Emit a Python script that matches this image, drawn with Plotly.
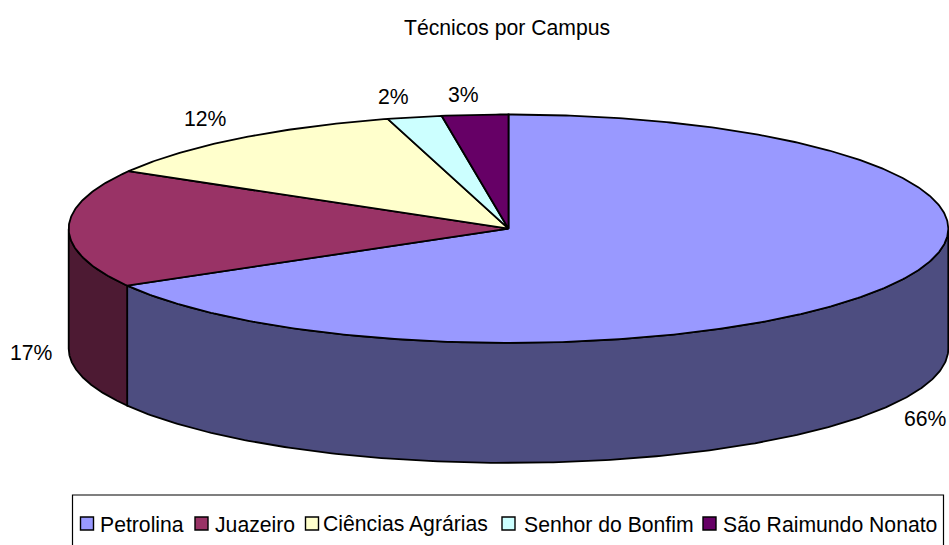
import numpy as np
import plotly.graph_objects as go

# Data
categories = ["Petrolina", "Juazeiro", "Ciências Agrárias", "Senhor do Bonfim", "São Raimundo Nonato"]
values = [66.7, 16.7, 12.17, 2.0, 2.43]
percent_labels = ["66%", "17%", "12%", "2%", "3%"]
top_colors = ["#9999FF", "#993366", "#FFFFCC", "#CCFFFF", "#660066"]
side_colors = ["#4D4D80", "#4D1A33", "#808066", "#668080", "#330033"]
title_text = "Técnicos por Campus"

W, H = 949, 545
CX, CY, RX, RY, DEPTH = 508.5, 228.7, 439.8, 114.2, 120
FONT = "Liberation Sans, Arial, sans-serif"
FS = 21.2
LW = 1.8
label_pos = [(925, 418), (31, 352), (205, 118), (393, 96), (463, 94)]
swatch_x = [80.5, 195, 305.5, 502, 703]
legend_text_x = [100, 215, 323, 524, 723]


def ell(deg, dy=0.0):
    r = np.radians(deg)
    return CX + RX * np.sin(r), CY - RY * np.cos(r) + dy


total = sum(values)
edges = np.concatenate([[0], np.cumsum(values) / total * 360])

fig = go.Figure()

# Side walls (front half of the ellipse only)
for i in range(len(values)):
    a, b = max(edges[i], 90), min(edges[i + 1], 270)
    if a >= b:
        continue
    t = np.linspace(a, b, 240)
    xt, yt = ell(t)
    xb, yb = ell(t[::-1], DEPTH)
    fig.add_trace(go.Scatter(
        x=np.r_[xt, xb, xt[0]], y=np.r_[yt, yb, yt[0]],
        mode="lines", fill="toself", fillcolor=side_colors[i],
        line=dict(color="#000000", width=LW), hoverinfo="skip", showlegend=False))

# Top faces
for i in range(len(values)):
    t = np.linspace(edges[i], edges[i + 1], max(8, int((edges[i + 1] - edges[i]) * 2)))
    xt, yt = ell(t)
    fig.add_trace(go.Scatter(
        x=np.r_[CX, xt, CX], y=np.r_[CY, yt, CY],
        mode="lines", fill="toself", fillcolor=top_colors[i],
        line=dict(color="#000000", width=LW), hoverinfo="skip", showlegend=False,
        name=categories[i]))

shapes = [dict(type="rect", xref="x", yref="y", x0=72.5, x1=943.5, y0=495, y1=560,
               line=dict(color="#000000", width=1.2), fillcolor="rgba(0,0,0,0)", layer="below")]
annotations = [dict(x=507, y=28, xref="x", yref="y", text=title_text, showarrow=False,
                    font=dict(family=FONT, size=FS, color="#000000"))]
for lab, (x, y) in zip(percent_labels, label_pos):
    annotations.append(dict(x=x, y=y, xref="x", yref="y", text=lab, showarrow=False,
                            font=dict(family=FONT, size=FS, color="#000000")))
for cat, col, sx, tx in zip(categories, top_colors, swatch_x, legend_text_x):
    shapes.append(dict(type="rect", xref="x", yref="y", x0=sx, x1=sx + 13, y0=517, y1=530,
                       fillcolor=col, line=dict(color="#000000", width=1.4)))
    annotations.append(dict(x=tx, y=524, xref="x", yref="y", xanchor="left", text=cat, showarrow=False,
                            xshift=-2, font=dict(family=FONT, size=FS, color="#000000")))

fig.update_layout(
    width=W, height=H, margin=dict(l=0, r=0, t=0, b=0, pad=0),
    paper_bgcolor="#FFFFFF", plot_bgcolor="#FFFFFF", showlegend=False,
    shapes=shapes, annotations=annotations,
    xaxis=dict(range=[0, W], visible=False, fixedrange=True),
    yaxis=dict(range=[H, 0], visible=False, fixedrange=True),
)
fig.write_html("out.html", config={"displayModeBar": False},
               post_script="document.body.style.margin='0';document.body.style.overflow='hidden';")
